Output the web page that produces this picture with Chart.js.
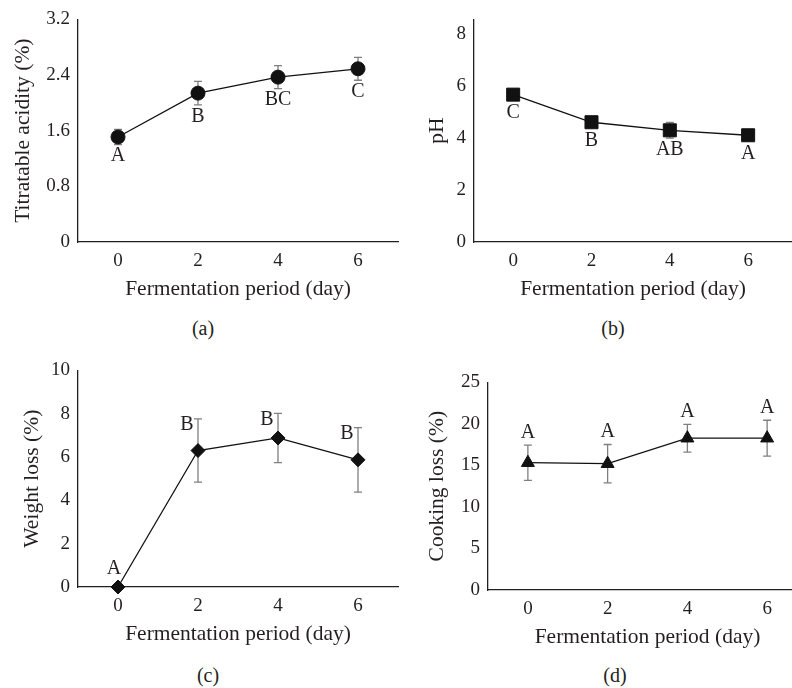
<!DOCTYPE html>
<html>
<head>
<meta charset="utf-8">
<script src="https://cdn.jsdelivr.net/npm/chart.js@4.4.1/dist/chart.umd.min.js"></script>
<style>
  html, body { margin: 0; padding: 0; width: 792px; height: 688px; overflow: hidden; background: #fff; }
  canvas { position: absolute; }
  .cap { position: absolute; font: 20px 'Liberation Serif', serif; color: #231f20; transform: translate(-50%, -50%); white-space: nowrap; }
</style>
</head>
<body>
<canvas id="pa" width="400" height="302" style="left:0;top:0"></canvas>
<canvas id="pb" width="392" height="302" style="left:400px;top:0"></canvas>
<canvas id="pc" width="400" height="296" style="left:0;top:351px"></canvas>
<canvas id="pd" width="407" height="287" style="left:400px;top:363px"></canvas>
<div class="cap" style="left:203px;top:328px">(a)</div>
<div class="cap" style="left:613px;top:328px">(b)</div>
<div class="cap" style="left:208px;top:675px">(c)</div>
<div class="cap" style="left:615px;top:675px">(d)</div>
<script>
/* fermentation panels: line + error bars + significance letters */

const days = [0, 2, 4, 6];

const acidity = [1.51, 2.14, 2.37, 2.49];
const acidityErr = [0.11, 0.17, 0.165, 0.165];
const acidityLetters = ['A', 'B', 'BC', 'C'];
const acidityTicks = [0, 0.8, 1.6, 2.4, 3.2];

const phValues = [5.66, 4.60, 4.29, 4.10];
const phErr = [0.08, 0.1, 0.3, 0.1];
const phLetters = ['C', 'B', 'AB', 'A'];
const phTicks = [0, 2, 4, 6, 8];

const weightLoss = [0, 6.30, 6.88, 5.87];
const weightErr = [0, 1.46, 1.14, 1.49];
const weightLetters = ['A', 'B', 'B', 'B'];
const weightTicks = [0, 2, 4, 6, 8, 10];

const cookingLoss = [15.33, 15.21, 18.28, 18.28];
const cookingErr = [2.12, 2.31, 1.67, 2.16];
const cookingLetters = ['A', 'A', 'A', 'A'];
const cookingTicks = [0, 5, 10, 15, 20, 25];

const INK = '#231f20';
const FONT = 'Liberation Serif';

const errBars = {
  id: 'errBars',
  beforeDatasetsDraw(chart, args, opts) {
    const ctx = chart.ctx, y = chart.scales.y;
    const pts = chart.getDatasetMeta(0).data;
    const vals = chart.data.datasets[0].data;
    ctx.save();
    ctx.strokeStyle = '#7f7f7f';
    ctx.lineWidth = 1.3;
    opts.err.forEach((e, i) => {
      if (!e) return;
      const x = pts[i].x;
      const top = y.getPixelForValue(vals[i].y + e), bot = y.getPixelForValue(vals[i].y - e);
      ctx.beginPath();
      ctx.moveTo(x, top); ctx.lineTo(x, bot);
      ctx.moveTo(x - 4, top); ctx.lineTo(x + 4, top);
      ctx.moveTo(x - 4, bot); ctx.lineTo(x + 4, bot);
      ctx.stroke();
    });
    ctx.restore();
  }
};

const letters = {
  id: 'letters',
  afterDatasetsDraw(chart, args, opts) {
    const ctx = chart.ctx, y = chart.scales.y;
    const pts = chart.getDatasetMeta(0).data;
    const vals = chart.data.datasets[0].data;
    ctx.save();
    ctx.fillStyle = INK;
    ctx.font = '20px "' + FONT + '"';
    ctx.textAlign = 'center';
    ctx.textBaseline = 'middle';
    opts.text.forEach((t, i) => {
      const p = pts[i], v = vals[i].y, e = opts.err[i];
      let lx = p.x, ly;
      if (opts.mode === 'below') {
        ly = Math.max(y.getPixelForValue(v - e), p.y + 7) + 11.5;
      } else if (opts.mode === 'above') {
        ly = y.getPixelForValue(v + e) - 12.5;
      } else if (e) {            // left of the error bar top
        lx = p.x - 11; ly = y.getPixelForValue(v + e) + 6;
      } else {
        lx = p.x - 4; ly = p.y - 18;
      }
      ctx.fillText(t, lx, ly);
    });
    ctx.restore();
  }
};

function panel(id, o) {
  const font = { family: FONT, size: 19 };
  const titleFont = { family: FONT, size: 21.5 };
  return new Chart(document.getElementById(id), {
    type: 'line',
    data: {
      datasets: [{
        data: days.map((d, i) => ({ x: d, y: o.values[i] })),
        borderColor: '#111', borderWidth: 1.3, tension: 0, clip: false,
        pointStyle: o.marker, pointRadius: o.radius,
        pointBackgroundColor: '#111', pointBorderColor: '#111', pointBorderWidth: 1
      }]
    },
    options: {
      responsive: false, animation: false, events: [],
      layout: { autoPadding: false, padding: { top: 15, right: o.padRight, left: 0, bottom: 0 } },
      plugins: {
        legend: { display: false }, tooltip: { enabled: false },
        errBars: { err: o.err },
        letters: { text: o.letters, err: o.err, mode: o.mode }
      },
      scales: {
        x: {
          type: 'linear', min: -1, max: o.xMax,
          afterBuildTicks: s => { s.ticks = days.map(v => ({ value: v })); },
          afterFit: s => { s.height = 60; s.paddingLeft = 0; s.paddingRight = 0; },
          grid: { display: false, drawTicks: false },
          border: { color: INK, width: 1.3 },
          ticks: { font, color: INK, padding: 8 },
          title: { display: true, text: 'Fermentation period (day)', font: titleFont, color: INK, padding: 0 }
        },
        y: {
          min: 0, max: o.yMax,
          afterBuildTicks: s => { s.ticks = o.ticks.map(v => ({ value: v })); },
          afterFit: s => { s.width = o.yWidth; },
          grid: { display: false, drawTicks: false },
          border: { color: INK, width: 1.3 },
          ticks: { font, color: INK, padding: 8, callback: v => String(v) },
          title: { display: true, text: o.yTitle, font: titleFont, color: INK, padding: { top: o.titlePad, bottom: 0 } }
        }
      }
    },
    plugins: [errBars, letters]
  });
}

panel('pa', { values: acidity, err: acidityErr, letters: acidityLetters, ticks: acidityTicks,
  yMax: 3.2, yTitle: 'Titratable acidity (%)', marker: 'circle', radius: 7, mode: 'below',
  yWidth: 78, padRight: 2, xMax: 7, titlePad: 10 });

panel('pb', { values: phValues, err: phErr, letters: phLetters, ticks: phTicks,
  yMax: 8.55, yTitle: 'pH', marker: 'rect', radius: 9.2, mode: 'below',
  yWidth: 74, padRight: 0, xMax: 7.12, titlePad: 24 });

panel('pc', { values: weightLoss, err: weightErr, letters: weightLetters, ticks: weightTicks,
  yMax: 10, yTitle: 'Weight loss (%)', marker: 'rectRot', radius: 7, mode: 'left',
  yWidth: 78, padRight: 2, xMax: 7, titlePad: 19 });

panel('pd', { values: cookingLoss, err: cookingErr, letters: cookingLetters, ticks: cookingTicks,
  yMax: 25, yTitle: 'Cooking loss (%)', marker: 'triangle', radius: 7.5, mode: 'above',
  yWidth: 88, padRight: 0, xMax: 7, titlePad: 24 });
</script>
</body>
</html>
